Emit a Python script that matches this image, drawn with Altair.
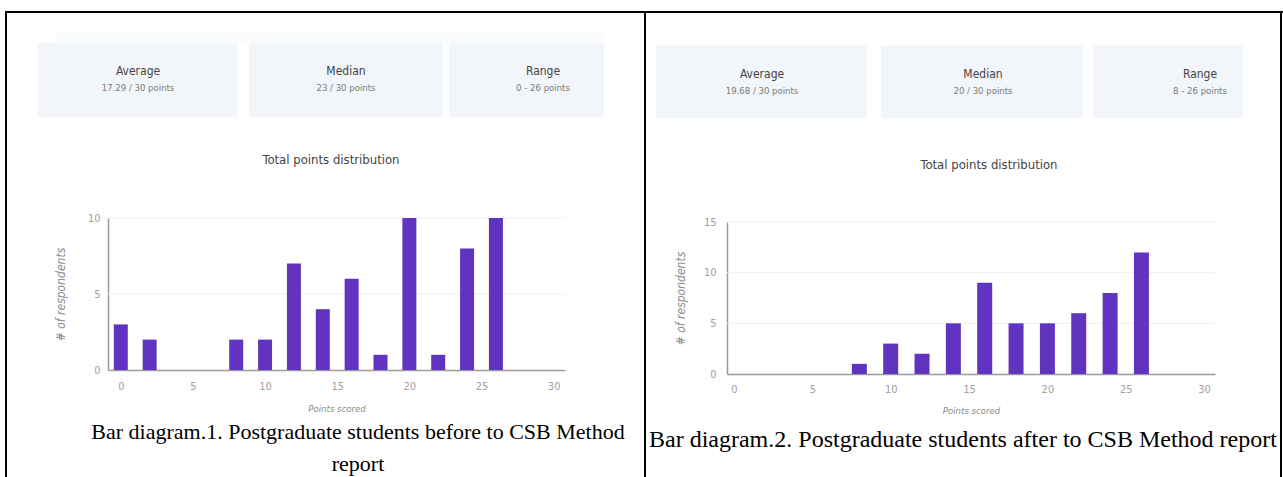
import altair as alt
import pandas as pd

# ---------------- data ----------------
before_scores = [0, 2, 8, 10, 12, 14, 16, 18, 20, 22, 24, 26]
before_counts = [3, 2, 2, 2, 7, 4, 6, 1, 10, 1, 8, 10]
after_scores = [8, 10, 12, 14, 16, 18, 20, 22, 24, 26]
after_counts = [1, 3, 2, 5, 9, 5, 5, 6, 8, 12]
x_ticks = [0, 5, 10, 15, 20, 25, 30]
before_y_ticks = [0, 5, 10]
after_y_ticks = [0, 5, 10, 15]
stat_names = ["Average", "Median", "Range"]
before_stats = ["17.29 / 30 points", "23 / 30 points", "0 - 26 points"]
after_stats = ["19.68 / 30 points", "20 / 30 points", "8 - 26 points"]
chart_title = "Total points distribution"
x_title = "Points scored"
y_title = "# of respondents"
before_caption = ["Bar diagram.1. Postgraduate students before to CSB Method", "report"]
after_caption = ["Bar diagram.2. Postgraduate students after to CSB Method report"]

# ---------------- styles ----------------
PURPLE = "#6034be"
SANS = "Liberation Sans Narrow, DejaVu Sans Condensed, Roboto, sans-serif"
SERIF = "Liberation Serif, Times New Roman, serif"
BOX = "#f2f5f9"
ONE = pd.DataFrame({"k": [0]})


def text(s, x, y, size, color, font=SANS, weight="normal", style="normal", align="center"):
    return alt.Chart(ONE).mark_text(
        font=font, fontSize=size, color=color, fontWeight=weight, fontStyle=style,
        align=align, baseline="middle",
    ).encode(x=alt.value(x), y=alt.value(y), text=alt.value(s))


def rect(x, x2, y, y2, color):
    return alt.Chart(ONE).mark_rect(color=color).encode(
        x=alt.value(x), x2=alt.value(x2), y=alt.value(y), y2=alt.value(y2))


def vline(x, y, y2):
    return alt.Chart(ONE).mark_rule(color="black", strokeWidth=2).encode(
        x=alt.value(x), y=alt.value(y), y2=alt.value(y2))


def hline(x, x2, y):
    return alt.Chart(ONE).mark_rule(color="black", strokeWidth=2).encode(
        x=alt.value(x), x2=alt.value(x2), y=alt.value(y))


def panel(scores, counts, yticks, xr, xdom, yr, bar_size, y_lab_pad, x_lab_pad,
          ytitle_x, ytitle_y, xtitle_y):
    df = pd.DataFrame({"score": scores, "count": counts})
    xs = alt.Scale(domain=xdom, range=xr, nice=False, zero=False)
    ys = alt.Scale(domain=[yticks[0], yticks[-1]], range=yr, nice=False)
    axis_common = dict(
        ticks=False, grid=False, labelFont=SANS, labelFontSize=11, labelColor="#a0a0a0",
        domainColor="#9a9a9a", domainWidth=1.5, titleFont=SANS,
        titleFontStyle="italic", titleFontWeight="normal", titleColor="#8a8a8a",
        titleAlign="center", titleBaseline="middle", labelFlush=False, labelOverlap=False,
    )
    y_axis = alt.Axis(
        orient="left", values=yticks, offset=-xr[0], labelPadding=y_lab_pad,
        titleX=ytitle_x, titleY=ytitle_y, titleAngle=270, titleFontSize=12,
        **axis_common)
    x_axis = alt.Axis(
        orient="bottom", values=x_ticks, offset=yr[0] - 477, labelPadding=x_lab_pad,
        titleX=(xr[0] + xr[1]) / 2, titleY=xtitle_y, titleFontSize=9.5, **axis_common)
    grid = alt.Chart(pd.DataFrame({"count": yticks[1:]})).mark_rule(
        color="#efefef", strokeWidth=1).encode(
        y=alt.Y("count:Q", scale=ys, title=y_title, axis=y_axis),
        x=alt.value(xr[0]), x2=alt.value(xr[1]))
    bars = alt.Chart(df).mark_bar(size=bar_size, color=PURPLE).encode(
        x=alt.X("score:Q", scale=xs, title=x_title, axis=x_axis),
        y=alt.Y("count:Q", scale=ys, title=y_title, axis=y_axis),
    )
    return alt.layer(grid, bars)


left = panel(before_scores, before_counts, before_y_ticks, [108, 565], [-0.54, 30.44],
             [370, 218], 14, 8, 10, -48, 294, 38)
right = panel(after_scores, after_counts, after_y_ticks, [727, 1215], [-0.125, 30.375],
              [374, 222], 15, 11, 9, -47, 298, 36)

decor = []
# stat boxes
decor.append(rect(55, 604, 33, 43, "#fafbfc"))
for (x0, x1) in [(38, 237), (249, 443), (449, 604)]:
    decor.append(rect(x0, x1, 43, 117, BOX))
for (x0, x1) in [(656, 867), (881, 1083), (1093, 1243)]:
    decor.append(rect(x0, x1, 45, 118, BOX))
# stat texts
for name, val, cx in zip(stat_names, before_stats, [138, 346, 543]):
    decor.append(text(name, cx, 71, 12, "#444444"))
    decor.append(text(val, cx, 88, 9.5, "#7a7a7a"))
for name, val, cx in zip(stat_names, after_stats, [762, 983, 1200]):
    decor.append(text(name, cx, 74, 12, "#444444"))
    decor.append(text(val, cx, 91, 9.5, "#7a7a7a"))
# chart titles
decor.append(text(chart_title, 331, 160, 13, "#444444"))
decor.append(text(chart_title, 989, 165, 13, "#444444"))
# captions
decor.append(text(before_caption[0], 358, 432, 22, "#000000", font=SERIF))
decor.append(text(before_caption[1], 358, 464, 22, "#000000", font=SERIF))
decor.append(text(after_caption[0], 649, 440, 24, "#000000", font=SERIF, align="left"))
# table borders
decor.append(hline(5, 1283, 12))
decor.append(vline(6, 11, 477))
decor.append(vline(645, 11, 477))
decor.append(vline(1281, 11, 477))

chart = alt.layer(*decor, left, right).resolve_scale(
    x="independent", y="independent"
).properties(
    width=1283, height=477, padding=0,
    autosize=alt.AutoSizeParams(type="none"),
    background="white",
).configure_view(stroke=None)

chart.save("out.html", embed_options={"renderer": "svg", "actions": False})
